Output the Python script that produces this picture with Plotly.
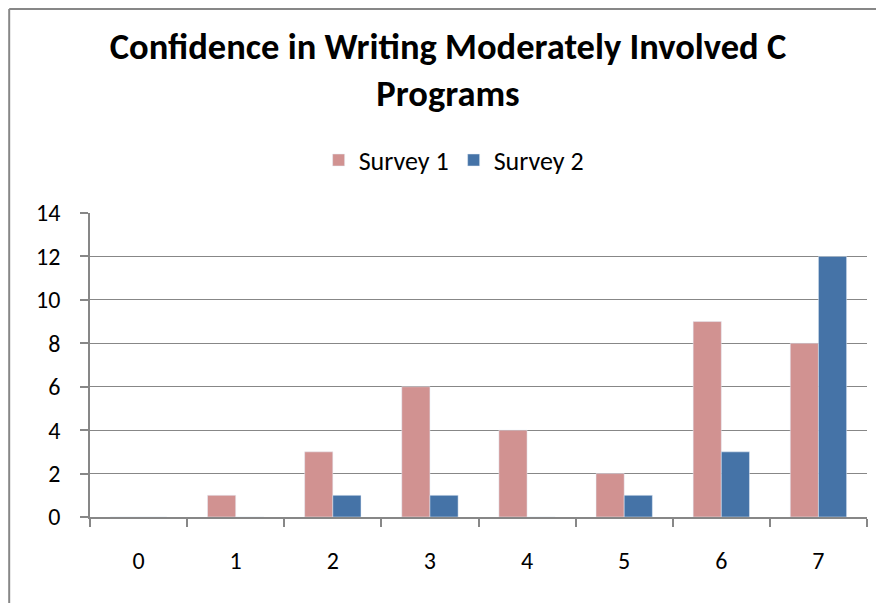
"""
Confidence survey bar chart (Excel-style look)
"""

import plotly.graph_objects as go

########## Chart data ##########
CATEGORIES = ["0", "1", "2", "3", "4", "5", "6", "7"]
SURVEY_1 = [0, 1, 3, 6, 4, 2, 9, 8]
SURVEY_2 = [0, 0, 1, 1, 0, 1, 3, 12]
Y_TICKS = [0, 2, 4, 6, 8, 10, 12, 14]
################################

FONT = "Carlito, Calibri, Lato, sans-serif"
GRID = "#878787"

# page body has an 8px margin, so the figure is shifted by 8px and runs
# past the window's right and bottom edges (like the cropped original)
W, H = 884, 603

fig = go.Figure(data=[
    go.Bar(name="Survey 1", x=CATEGORIES, y=SURVEY_1, marker_color="#D19291"),
    go.Bar(name="Survey 2", x=CATEGORIES, y=SURVEY_2, marker_color="#4573A7"),
])

fig.update_layout(
    width=W, height=H,
    margin=dict(l=82, r=25, t=205, b=94),
    paper_bgcolor="white", plot_bgcolor="white",
    font=dict(family=FONT, size=24, color="black"),
    title=dict(
        text="<b>Confidence in Writing Moderately Involved C<br>Programs</b>",
        x=440 / W, xanchor="center",
        y=1 - 51 / H, yanchor="top",
        font=dict(size=36.5, family=FONT, color="black"),
    ),
    barmode="group", bargap=0.42, bargroupgap=0,
    legend=dict(
        orientation="h", x=0.468, xanchor="center",
        y=1.174, yanchor="middle",
        font=dict(size=26), itemwidth=30,
    ),
    showlegend=True,
)

fig.update_xaxes(
    type="category", tickson="boundaries",
    ticks="outside", ticklen=8, tickcolor=GRID, tickwidth=1.5,
    showline=True, linecolor=GRID, linewidth=1.5,
    showgrid=False, ticklabelstandoff=21,
)
fig.update_yaxes(
    range=[0, 14], tickvals=Y_TICKS,
    ticks="outside", ticklen=8, tickcolor=GRID, tickwidth=1.5,
    showline=True, linecolor=GRID, linewidth=1.5,
    showgrid=True, gridcolor=GRID, gridwidth=1.3,
    zeroline=False, ticklabelstandoff=15,
)

# outer chart border: only the left and top edges fall inside the picture
fig.add_shape(type="line", xref="paper", yref="paper",
              x0=-0.104, x1=-0.104, y0=-0.4, y1=1.671,
              line=dict(color=GRID, width=2), layer="below")
fig.add_shape(type="line", xref="paper", yref="paper",
              x0=-0.104, x1=1.1, y0=1.671, y1=1.671,
              line=dict(color=GRID, width=2), layer="below")

fig.write_html("out.html")
